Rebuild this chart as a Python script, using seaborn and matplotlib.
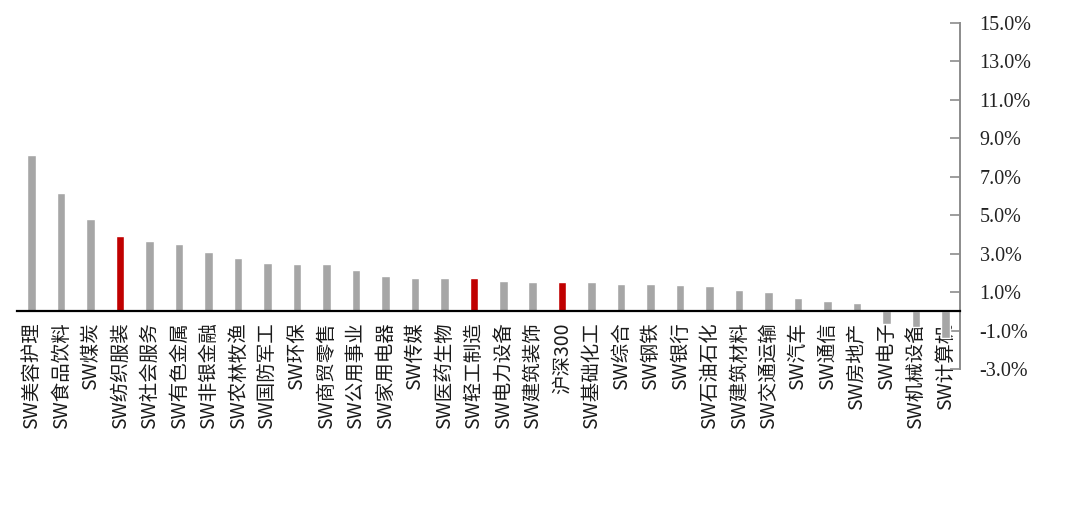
import matplotlib
matplotlib.use("Agg")
import matplotlib.pyplot as plt
import seaborn as sns
import numpy as np

categories = ["SW美容护理", "SW食品饮料", "SW煤炭", "SW纺织服装", "SW社会服务", "SW有色金属",
              "SW非银金融", "SW农林牧渔", "SW国防军工", "SW环保", "SW商贸零售", "SW公用事业",
              "SW家用电器", "SW传媒", "SW医药生物", "SW轻工制造", "SW电力设备", "SW建筑装饰",
              "沪深300", "SW基础化工", "SW综合", "SW钢铁", "SW银行", "SW石油石化",
              "SW建筑材料", "SW交通运输", "SW汽车", "SW通信", "SW房地产", "SW电子",
              "SW机械设备", "SW计算机"]
returns = [8.14, 6.16, 4.79, 3.90, 3.66, 3.50, 3.07, 2.76, 2.52, 2.45, 2.45, 2.14,
           1.82, 1.72, 1.72, 1.72, 1.56, 1.50, 1.50, 1.50, 1.42, 1.40, 1.35, 1.30,
           1.13, 0.99, 0.68, 0.52, 0.42, -0.65, -0.80, -1.40]
highlight = ["SW纺织服装", "SW轻工制造", "沪深300"]
y_ticks = [-3, -1, 1, 3, 5, 7, 9, 11, 13, 15]

sns.set_style("white")
plt.rcParams["font.family"] = ["Noto Sans CJK SC", "DejaVu Sans"]

palette = {c: ("#C00000" if c in highlight else "#A6A6A6") for c in categories}

fig = plt.figure(figsize=(10.8, 5.21), dpi=100)
ax = fig.add_axes([0.0157, 0.2917, 0.8733, 0.6647])

sns.barplot(x=categories, y=returns, hue=categories, palette=palette, legend=False,
            width=0.29, saturation=1, ax=ax)

ax.set_xlim(-0.5, len(categories) - 0.5)
ax.set_ylim(-3, 15)

# x axis sits at zero, category boundaries get small upward ticks
for s in ["top", "left"]:
    ax.spines[s].set_visible(False)
ax.spines["bottom"].set_position(("data", 0))
ax.spines["bottom"].set_color("black")
ax.spines["bottom"].set_linewidth(1.6)
ax.set_xticks(range(len(categories)))
ax.set_xticklabels(categories, rotation=90, va="top", ha="center", fontsize=14,
                   color="#1a1a1a")
ax.set_xticks(np.arange(-0.5, len(categories)), minor=True)
ax.tick_params(axis="x", which="major", length=0, pad=8)
ax.tick_params(axis="x", which="minor", direction="in", length=7, width=1.5, color="black")

# right-hand percentage axis
ax.yaxis.tick_right()
ax.spines["right"].set_color("#8C8C8C")
ax.spines["right"].set_linewidth(1.4)
ax.set_yticks(y_ticks)
ax.set_yticklabels([f"{v:.1f}%" for v in y_ticks], fontsize=14.5,
                   family=["Liberation Serif", "DejaVu Serif"], color="#222222")
ax.tick_params(axis="y", direction="in", length=7, width=1.2, color="#8C8C8C", pad=14)

ax.set_xlabel("")
ax.set_ylabel("")
fig.savefig("out.png", dpi=100)
